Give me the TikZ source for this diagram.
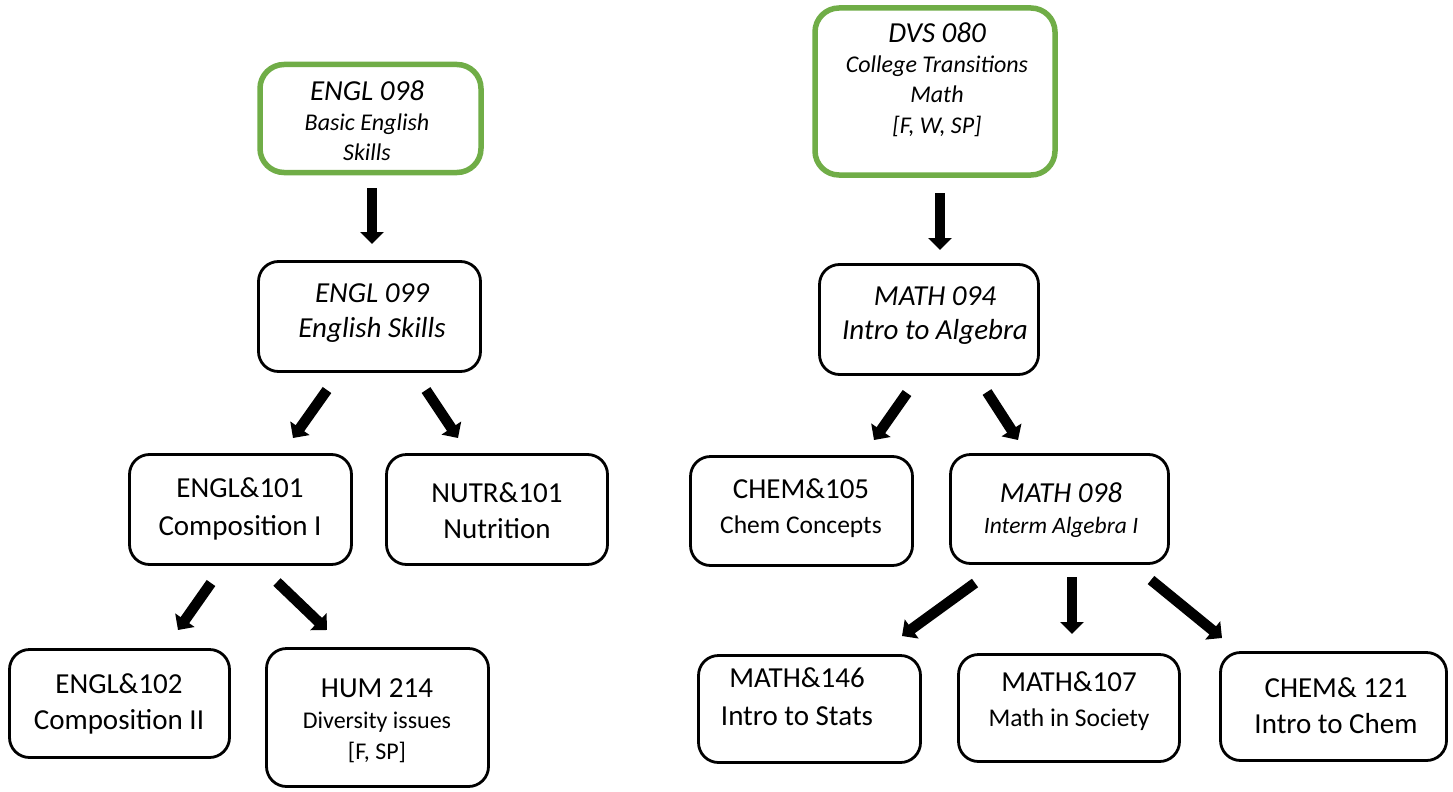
\documentclass[tikz,border=0pt]{standalone}
\usepackage{fontspec}
\setmainfont{Carlito}
\usetikzlibrary{arrows.meta}
\definecolor{boxgreen}{RGB}{112,173,71}
\newcommand\mylines[2]{\fontsize{29}{#1}\selectfont\begin{tabular}[t]{@{}c@{}}#2\end{tabular}}
\newcommand\smallf{\fontsize{24}{24}\selectfont}
\newcommand\smallg{\fontsize{23.5}{23.5}\selectfont}
\newcommand\midf{\fontsize{25.5}{25.5}\selectfont}
\begin{document}
\begin{tikzpicture}[x=1pt,y=-1pt,
  box/.style={draw=black, line width=2.8pt, rounded corners=20pt, inner sep=0pt},
  gbox/.style={draw=boxgreen, line width=5.5pt, rounded corners=24pt, inner sep=0pt},
  txt/.style={anchor=base, inner sep=0pt},
  arr/.style={line width=10.5pt, -{Triangle[width=23pt,length=12pt]}}]
\useasboundingbox[fill=white] (0,0) rectangle (1453,792);

% boxes
\node[gbox, minimum width=221pt, minimum height=108pt] (engl098) at (370.5,118.5) {};
\node[box, minimum width=222pt, minimum height=110pt] (engl099) at (369.5,316.5) {};
\node[box, minimum width=222pt, minimum height=110pt] (engl101) at (240.5,509.5) {};
\node[box, minimum width=221pt, minimum height=110pt] (nutr101) at (497,509.5) {};
\node[box, minimum width=220pt, minimum height=108pt] (engl102) at (119.5,703.5) {};
\node[box, minimum width=222pt, minimum height=138pt] (hum214) at (377.5,717.5) {};
\node[gbox, minimum width=240pt, minimum height=167pt] (dvs080) at (935,91.5) {};
\node[box, minimum width=219pt, minimum height=110pt] (math094) at (929,319.5) {};
\node[box, minimum width=222pt, minimum height=109pt] (chem105) at (801.5,511) {};
\node[box, minimum width=218pt, minimum height=109pt] (math098) at (1059.5,509) {};
\node[box, minimum width=222pt, minimum height=107pt] (math146) at (809.5,709) {};
\node[box, minimum width=221pt, minimum height=107pt] (math107) at (1069,708) {};
\node[box, minimum width=226pt, minimum height=108pt] (chem121) at (1333.5,706.5) {};

% texts
\node[txt] (t098) at (367,100) {\itshape\mylines{30}{ENGL 098\\ \smallf Basic English\\ \smallf Skills}};
\node[txt] (t099) at (372,302) {\itshape\mylines{35}{ENGL 099\\English Skills}};
\node[txt] (t101) at (240,497) {\mylines{38}{ENGL\&101\\Composition I}};
\node[txt] (tn101) at (497,502) {\mylines{36}{NUTR\&101\\Nutrition}};
\node[txt] (t102) at (119,693) {\mylines{36}{ENGL\&102\\Composition II}};
\node[txt] (th214) at (377,697) {\mylines{31}{HUM 214\\ \smallf Diversity issues\\ \smallf {[F, SP]}}};
\node[txt] (tdvs) at (937,43) {\itshape\mylines{30}{DVS 080\\ \smallf College Transitions\\ \smallf Math\\ \smallf {[F, W, SP]}}};
\node[txt] (tm094) at (935,305) {\itshape\mylines{34}{MATH 094\\Intro to Algebra}};
\node[txt] (tc105) at (801,498) {\mylines{35}{CHEM\&105\\ \midf Chem Concepts}};
\node[txt] (tm098) at (1061,502) {\itshape\mylines{31}{MATH 098\\ \smallg Interm Algebra I}};
\node[txt] (tm146) at (797,687) {\mylines{38}{MATH\&146\\Intro to Stats}};
\node[txt] (tm107) at (1069,691) {\mylines{35}{MATH\&107\\ \midf Math in Society}};
\node[txt] (tc121) at (1336,697) {\mylines{36}{CHEM\& 121\\Intro to Chem}};

% arrow end points
\coordinate (a1s) at (372,188);  \coordinate (a1e) at (372,244);
\coordinate (a2s) at (327,390);  \coordinate (a2e) at (293,438);
\coordinate (a3s) at (426,390);  \coordinate (a3e) at (458,438);
\coordinate (a4s) at (211,583);  \coordinate (a4e) at (178,630);
\coordinate (a5s) at (277,582);  \coordinate (a5e) at (327,630);
\coordinate (a6s) at (940,193);  \coordinate (a6e) at (940,250);
\coordinate (a7s) at (907,393);  \coordinate (a7e) at (874,440);
\coordinate (a8s) at (987,392);  \coordinate (a8e) at (1018,440);
\coordinate (a9s) at (975,583);  \coordinate (a9e) at (902,636);
\coordinate (a10s) at (1072,577); \coordinate (a10e) at (1072,634);
\coordinate (a11s) at (1151,580); \coordinate (a11e) at (1222,638);

\draw[arr] (a1s) -- (a1e);
\draw[arr] (a2s) -- (a2e);
\draw[arr] (a3s) -- (a3e);
\draw[arr] (a4s) -- (a4e);
\draw[arr] (a5s) -- (a5e);
\draw[arr] (a6s) -- (a6e);
\draw[arr] (a7s) -- (a7e);
\draw[arr] (a8s) -- (a8e);
\draw[arr] (a9s) -- (a9e);
\draw[arr] (a10s) -- (a10e);
\draw[arr] (a11s) -- (a11e);
\end{tikzpicture}
\end{document}
